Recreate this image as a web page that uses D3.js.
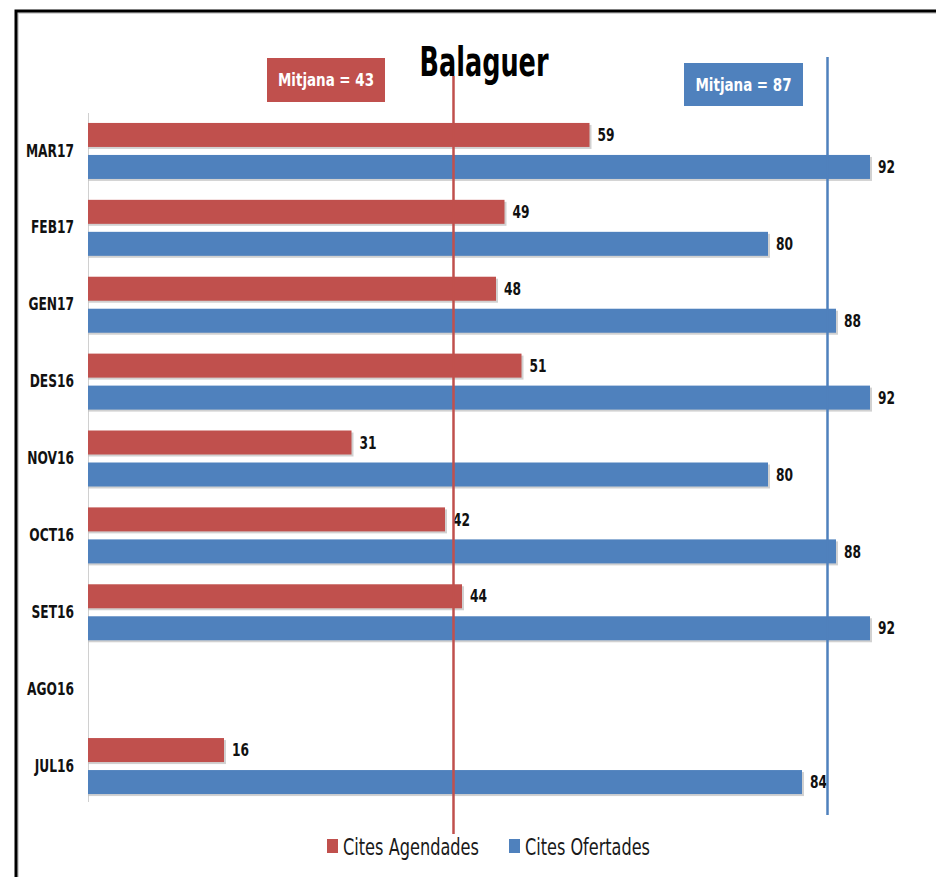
<!DOCTYPE html>
<html>
<head>
<meta charset="utf-8">
<script src="https://cdn.jsdelivr.net/npm/d3@7"></script>
<style>
  html, body { margin: 0; padding: 0; background: #fff; }
  svg { display: block; }
  text { font-family: "Liberation Sans Narrow", "DejaVu Sans Condensed", "Noto Sans", sans-serif; }
</style>
</head>
<body>
<svg id="chart" width="936" height="877"></svg>
<script>
// ---- data ----
const title = "Balaguer";
const categories = ["MAR17", "FEB17", "GEN17", "DES16", "NOV16", "OCT16", "SET16", "AGO16", "JUL16"];
const agendades = [59, 49, 48, 51, 31, 42, 44, null, 16];
const ofertades = [92, 80, 88, 92, 80, 88, 92, null, 84];
const seriesNames = ["Cites Agendades", "Cites Ofertades"];
const means = [43, 87];
const meanLabels = ["Mitjana = 43", "Mitjana = 87"];

// ---- styles ----
const colors = ["#C0504D", "#4F81BD"];

const svg = d3.select("#chart");

// frame
svg.append("rect").attr("x", 18).attr("y", 13).attr("width", 1000).attr("height", 1000)
  .attr("fill", "none").attr("stroke", "#c8c8c8").attr("stroke-width", 1.5);
svg.append("rect").attr("x", 16).attr("y", 11).attr("width", 1000).attr("height", 1000)
  .attr("fill", "none").attr("stroke", "#000").attr("stroke-width", 3);

const x = d3.scaleLinear().domain([0, 92]).range([88, 870]);
const y = d3.scaleBand().domain(categories).range([112, 804]);

// axis line
svg.append("line").attr("x1", 88.5).attr("x2", 88.5).attr("y1", 113).attr("y2", 802)
  .attr("stroke", "#d0d0d0").attr("stroke-width", 1);

// category labels via axis (condensed by horizontal scaling)
const sxCat = 0.8;
const yAxis = d3.axisLeft(y).tickSize(0).tickPadding(14);
const gAx = svg.append("g").attr("transform", "translate(88,0)").call(yAxis);
gAx.select(".domain").remove();
gAx.selectAll("text")
  .attr("font-family", '"Liberation Sans Narrow", "DejaVu Sans Condensed", sans-serif')
  .attr("font-size", 17).attr("font-weight", "bold").attr("fill", "#111")
  .attr("x", -14 / sxCat)
  .attr("dy", "0.36em").attr("y", 0)
  .attr("transform", `scale(${sxCat},1)`);

const barH = 24;
const series = [agendades, ofertades];
const offs = [-27.5, 4.5];
const sxVal = 0.8;

series.forEach((vals, si) => {
  const data = categories.map((c, i) => ({ c, v: vals[i] })).filter(d => d.v != null);
  const g = svg.append("g");
  // shadow
  g.selectAll("rect.sh").data(data).enter().append("rect")
    .attr("x", x(0)).attr("y", d => y(d.c) + y.bandwidth() / 2 + offs[si] + 2)
    .attr("width", d => x(d.v) - x(0) + 2).attr("height", barH)
    .attr("fill", "#bdbdbd").attr("opacity", 0.7);
  g.selectAll("rect.bar").data(data).enter().append("rect")
    .attr("x", x(0)).attr("y", d => y(d.c) + y.bandwidth() / 2 + offs[si])
    .attr("width", d => x(d.v) - x(0)).attr("height", barH)
    .attr("fill", colors[si]);
  g.selectAll("text.val").data(data).enter().append("text")
    .attr("transform", d => `translate(${x(d.v) + 8},${y(d.c) + y.bandwidth() / 2 + offs[si] + barH / 2}) scale(${sxVal},1)`)
    .attr("dy", "0.36em")
    .attr("font-size", 17).attr("font-weight", "bold").attr("fill", "#111")
    .text(d => d.v);
});

// mean lines
const meanY = [[76, 834], [57, 815]];
means.forEach((m, i) => {
  svg.append("line").attr("x1", x(m)).attr("x2", x(m))
    .attr("y1", meanY[i][0]).attr("y2", meanY[i][1])
    .attr("stroke", colors[i]).attr("stroke-width", 2.5);
});

// title
svg.append("text").attr("x", 484).attr("y", 76).attr("text-anchor", "middle")
  .attr("font-size", 40).attr("font-weight", "bold").attr("fill", "#000")
  .attr("textLength", 129).attr("lengthAdjust", "spacingAndGlyphs")
  .text(title);

// mean label boxes
const boxes = [{ x: 267, y: 58, w: 118, h: 44 }, { x: 684, y: 63, w: 119, h: 43 }];
means.forEach((m, i) => {
  const b = boxes[i];
  svg.append("rect").attr("x", b.x).attr("y", b.y).attr("width", b.w).attr("height", b.h)
    .attr("fill", colors[i]);
  svg.append("text").attr("x", b.x + b.w / 2).attr("y", b.y + b.h / 2).attr("dy", "0.36em")
    .attr("text-anchor", "middle").attr("font-size", 17).attr("font-weight", "bold")
    .attr("fill", "#fff").attr("textLength", 96).attr("lengthAdjust", "spacingAndGlyphs")
    .text(meanLabels[i]);
});

// legend
const legX = [327, 509];
const legW = [136, 125];
seriesNames.forEach((s, i) => {
  svg.append("rect").attr("x", legX[i]).attr("y", 839).attr("width", 11).attr("height", 14)
    .attr("fill", colors[i]);
  svg.append("text").attr("x", legX[i] + 16).attr("y", 855)
    .attr("font-size", 23).attr("fill", "#1a1a1a")
    .attr("textLength", legW[i]).attr("lengthAdjust", "spacingAndGlyphs")
    .text(s);
});
</script>
</body>
</html>
